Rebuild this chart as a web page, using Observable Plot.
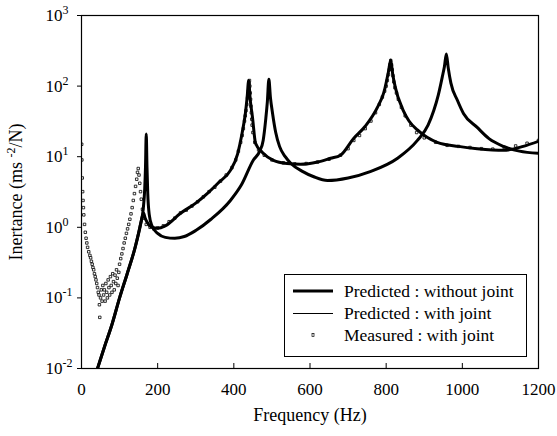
<!DOCTYPE html>
<html><head><meta charset="utf-8">
<script src="https://cdn.jsdelivr.net/npm/d3@7"></script>
<script src="https://cdn.jsdelivr.net/npm/@observablehq/plot@0.6"></script>
<style>body{margin:0;background:#fff} #chart{width:557px;height:436px}</style>
</head><body><div id="chart"></div>
<script>
const xTicks = [0, 200, 400, 600, 800, 1000, 1200];
const yTicks = [0.01, 0.1, 1, 10, 100, 1000];
const yTickLabels = ["10^-2", "10^-1", "10^0", "10^1", "10^2", "10^3"];
const xLabel = "Frequency (Hz)";
const yLabel = "Inertance (ms ^-2/N)";
const legendLabels = ["Predicted : without joint", "Predicted : with joint", "Measured : with joint"];

// Predicted : without joint
const freqNoJoint = [42,60,80,100,120,140,155,162,166,168,170,172,174,178,185,200,220,245,270,300,340,391,420,451,468,477,484,488,492,496,502,510,520,535,550,580,610,646,700,760,830,882,910,925,937,948,953,958,963,970,987,1003,1039,1070,1108,1150,1200];
const valNoJoint  = [0.01,0.02,0.042,0.1,0.22,0.5,1.1,1.8,3.5,7,21,7,3,1.5,1.05,0.82,0.72,0.7,0.74,0.9,1.3,2.4,4,8.9,12,17,35,60,125,70,40,22,14,10,8,6.2,5.2,4.6,5.0,6.2,9.5,17,28,45,75,140,190,285,180,110,63,41,26,18,14,12,11.2];

// Predicted : with joint
const freqJoint = [42,60,80,100,120,140,155,160,163,167,175,185,200,220,260,300,330,360,391,410,422,430,435,439,443,449,457,475,504,540,575,620,654,680,714,745,777,795,806,812,817,824,845,860,882,934,990,1039,1108,1160,1200];
const valJoint  = [0.01,0.02,0.042,0.1,0.22,0.5,1.1,1.45,1.6,1.35,1.12,1.0,0.97,1.05,1.58,2.2,3.0,4.3,6.4,11,22,40,70,120,65,36,15.5,11.5,8.9,8.0,7.8,8.4,9.5,10.5,18,27,50,85,160,235,150,96,45,32,24,16,14,13,12.3,14,16.5];

// Measured : with joint
const freqMeasured = [0.5,1,2,3,4,5,6,8,10,12,14,16,19,22,24,26,28,30,32,34,36,38,40,42,44,46,47,48,50,52,54,56,58,60,62,64,66,68,70,72,74,76,78,80,82,84,86,88,90,92,94,96,98,100,103,106,109,112,115,118,121,124,127,130,133,136,139,142,145,147,149,151,153,155,157,
  160,164,170,180,190,200,215,230,245,260,275,290,305,320,335,350,365,380,395,405,412,418,422,425,428,430,432,434,436,438,440,441,442,443,444,445,446,447,448,450,455,465,480,500,530,560,590,620,650,680,700,715,730,745,760,772,782,790,796,800,803,806,808,810,812,814,816,818,820,823,827,832,840,850,865,880,900,930,960,990,1020,1050,1080,1110,1140,1170,1200];
const valMeasured = [15,9,5,3.2,2.4,1.9,1.5,1.1,0.85,0.7,0.6,0.52,0.45,0.4,0.37,0.33,0.3,0.27,0.25,0.22,0.2,0.18,0.16,0.14,0.12,0.11,0.08,0.053,0.1,0.13,0.09,0.15,0.11,0.13,0.09,0.16,0.12,0.1,0.18,0.14,0.11,0.2,0.15,0.12,0.22,0.17,0.13,0.21,0.16,0.25,0.19,0.15,0.23,0.3,0.36,0.42,0.5,0.6,0.7,0.82,0.95,1.1,1.3,1.55,1.9,2.4,3.0,3.8,4.8,6.0,6.8,5.5,4.2,3.2,2.5,
  1.8,1.35,1.1,1.0,0.95,0.98,1.05,1.2,1.35,1.6,1.75,2.0,2.3,2.7,3.2,3.7,4.5,5.5,7.0,9,12,16,20,25,32,38,45,55,68,85,110,120,100,80,65,52,42,34,28,22,16,12.5,10.5,9,8.2,7.9,8.0,8.4,9.2,10.5,13,17,20,25,32,42,55,70,85,100,120,145,170,200,230,200,170,140,115,95,80,65,50,38,28,22,18.5,16,14.5,14,13.5,13,12.8,13.5,14.2,15.5,17];

const noJoint = freqNoJoint.map((f, i) => ({f, v: valNoJoint[i]}));
const joint = freqJoint.map((f, i) => ({f, v: valJoint[i]}));
const measured = freqMeasured.map((f, i) => ({f, v: valMeasured[i]}));

const font = "'Liberation Serif', 'Times New Roman', serif";

const chart = Plot.plot({
  width: 557, height: 436,
  marginLeft: 81, marginRight: 19, marginTop: 15, marginBottom: 68,
  style: {fontFamily: font, fontSize: "16px", color: "black", background: "white"},
  x: {domain: [0, 1200]},
  y: {type: "log", domain: [0.01, 1000]},
  clip: true,
  marks: [
    Plot.axisX({ticks: xTicks, tickSize: 0, tickPadding: 14, tickFormat: d => String(d), label: null, fontSize: 17, clip: false}),
    Plot.tickX(xTicks, {x: d => d, insetTop: 348, stroke: "black", clip: false}),
    Plot.axisY({ticks: yTicks, tickSize: 4, tickFormat: () => "", label: null, clip: false}),
    Plot.text(yTicks, {y: d => d, text: (d, i) => yTickLabels[i], frameAnchor: "left", dx: -36, textAnchor: "start", fontSize: 17, clip: false}),
    Plot.dot(measured, {x: "f", y: "v", symbol: "square", r: 1.4, fill: "white", stroke: "black", strokeWidth: 0.8}),
    Plot.line(noJoint, {x: "f", y: "v", stroke: "black", strokeWidth: 3, curve: "monotone-x"}),
    Plot.line(joint, {x: "f", y: "v", stroke: "black", strokeWidth: 3, curve: "monotone-x"}),
    Plot.frame({stroke: "black", strokeWidth: 1.2}),
    Plot.text([xLabel], {frameAnchor: "bottom", dy: 47, fontSize: 18, textAnchor: "middle", lineAnchor: "middle", clip: false}),
    Plot.text([yLabel], {frameAnchor: "left", dx: -65, rotate: -90, fontSize: 18, textAnchor: "middle", lineAnchor: "middle", clip: false})
  ]
});

const svg = d3.select(chart);
// superscripts
svg.selectAll("text").each(function() {
  const s = this.textContent;
  const m = s.match(/^(.*?)\^(-?\d+)(.*)$/);
  if (!m) return;
  const t = d3.select(this);
  t.text(null);
  t.append("tspan").text(m[1]);
  t.append("tspan").attr("dy", -7).attr("font-size", 12).text(m[2]);
  if (m[3]) t.append("tspan").attr("dy", 7).text(m[3]);
});

// legend
const lg = svg.append("g").attr("font-family", font).attr("font-size", 17.5).attr("text-anchor", "start");
lg.append("rect").attr("x", 284.5).attr("y", 274.5).attr("width", 242).attr("height", 82)
  .attr("fill", "white").attr("stroke", "black").attr("stroke-width", 1);
const rowsY = [291, 313, 335];
lg.append("line").attr("x1", 293).attr("x2", 333).attr("y1", rowsY[0]).attr("y2", rowsY[0]).attr("stroke", "black").attr("stroke-width", 3);
lg.append("line").attr("x1", 293).attr("x2", 333).attr("y1", rowsY[1] + 0.5).attr("y2", rowsY[1] + 0.5).attr("stroke", "black").attr("stroke-width", 1);
lg.append("rect").attr("x", 312).attr("y", rowsY[2] - 1.5).attr("width", 2).attr("height", 3).attr("fill", "none").attr("stroke", "black").attr("stroke-width", 0.7);
legendLabels.forEach((s, i) => {
  lg.append("text").attr("x", 344).attr("y", rowsY[i]).attr("dy", "0.35em").text(s);
});

document.getElementById("chart").appendChild(chart);
</script>
</body></html>
